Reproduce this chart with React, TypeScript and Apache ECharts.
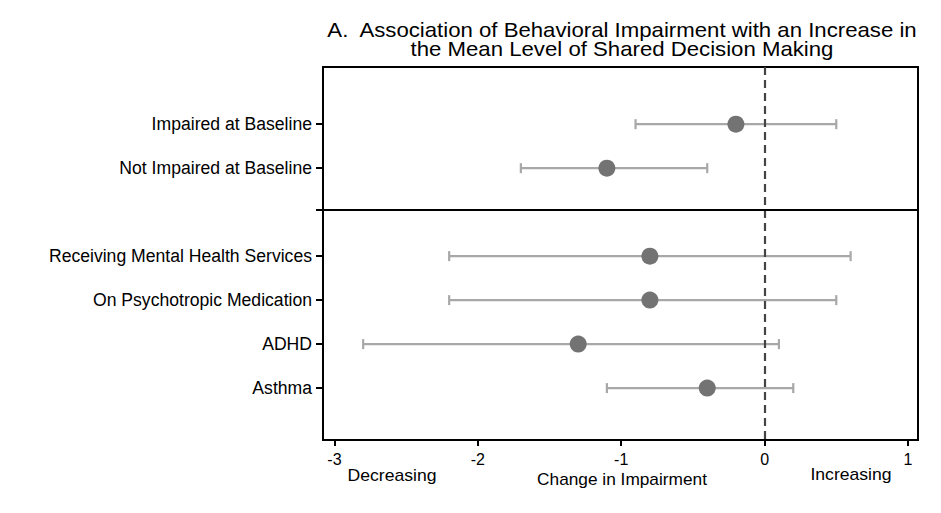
import React, { useEffect, useRef } from "react";
import * as echarts from "echarts";

const categories = [
  "Impaired at Baseline",
  "Not Impaired at Baseline",
  "Receiving Mental Health Services",
  "On Psychotropic Medication",
  "ADHD",
  "Asthma",
];
const panelOf = [0, 0, 1, 1, 1, 1];
const estimates = [-0.2, -1.1, -0.8, -0.8, -1.3, -0.4];
const lower = [-0.9, -1.7, -2.2, -2.2, -2.8, -1.1];
const upper = [0.5, -0.4, 0.6, 0.5, 0.1, 0.2];
const xTicks = [-3, -2, -1, 0, 1];

const titleLines = [
  "A.  Association of Behavioral Impairment with an Increase in",
  "the Mean Level of Shared Decision Making",
];
const xAxisName = "Change in Impairment";
const leftNote = "Decreasing";
const rightNote = "Increasing";

const FONT = "'Liberation Sans', Arial, Helvetica, sans-serif";

export default function App() {
  const ref = useRef<HTMLDivElement>(null);
  useEffect(() => {
    if (!ref.current) return;
    const chart = echarts.init(ref.current, null, { renderer: "svg" });
    const rowPos = categories.map((_, i) => i + 1.3 + panelOf[i]);
    const dividerPos = 3.25;

    const txt = (text: string, x: number, y: number, size: number, sx: number) => ({
      type: "text",
      x,
      y,
      scaleX: sx,
      style: {
        text,
        fontSize: size,
        fontFamily: FONT,
        fill: "#000",
        textAlign: "center",
        textVerticalAlign: "middle",
      },
    });

    const option: any = {
      animation: false,
      backgroundColor: "#ffffff",
      textStyle: { fontFamily: FONT },
      grid: {
        left: 323,
        right: 23,
        top: 67,
        bottom: 73,
        show: true,
        borderColor: "#000",
        borderWidth: 2,
        backgroundColor: "transparent",
      },
      xAxis: {
        type: "value",
        min: -3.08,
        max: 1.07,
        splitLine: { show: false },
        axisLine: { show: true, onZero: false, lineStyle: { color: "#000", width: 2 } },
        axisTick: {
          show: true,
          customValues: xTicks,
          length: 6,
          lineStyle: { color: "#000", width: 2 },
        },
        axisLabel: {
          customValues: xTicks,
          color: "#000",
          fontSize: 16,
          margin: 11,
          fontFamily: FONT,
        },
      },
      yAxis: {
        type: "value",
        inverse: true,
        min: 0,
        max: 8.48,
        splitLine: { show: false },
        axisLine: { show: true, onZero: false, lineStyle: { color: "#000", width: 2 } },
        axisTick: {
          show: true,
          customValues: [...rowPos, dividerPos],
          length: 7,
          lineStyle: { color: "#000", width: 2 },
        },
        axisLabel: {
          customValues: rowPos,
          color: "#000",
          fontSize: 17.6,
          margin: 11,
          fontFamily: FONT,
          formatter: (v: number) => {
            const idx = rowPos.findIndex((p) => Math.abs(p - v) < 1e-6);
            return idx >= 0 ? categories[idx] : "";
          },
        },
      },
      series: [
        {
          type: "custom",
          data: categories.map((_, i) => [lower[i], upper[i], rowPos[i]]),
          encode: { x: [0, 1], y: 2 },
          renderItem: (params: any, api: any) => {
            const lo = api.coord([api.value(0), api.value(2)]);
            const hi = api.coord([api.value(1), api.value(2)]);
            const style = { stroke: "#a8a8a8", lineWidth: 2.2 };
            const cap = 5;
            return {
              type: "group",
              children: [
                { type: "line", shape: { x1: lo[0], y1: lo[1], x2: hi[0], y2: hi[1] }, style },
                { type: "line", shape: { x1: lo[0], y1: lo[1] - cap, x2: lo[0], y2: lo[1] + cap }, style },
                { type: "line", shape: { x1: hi[0], y1: hi[1] - cap, x2: hi[0], y2: hi[1] + cap }, style },
              ],
            };
          },
          z: 2,
        },
        {
          type: "scatter",
          data: categories.map((_, i) => [estimates[i], rowPos[i]]),
          symbol: "circle",
          symbolSize: 17,
          itemStyle: { color: "#737373", opacity: 1 },
          z: 4,
          markLine: {
            silent: true,
            symbol: "none",
            label: { show: false },
            data: [
              {
                xAxis: 0,
                lineStyle: { color: "#444", width: 2.2, type: [8, 5], opacity: 1 },
              },
              {
                yAxis: dividerPos,
                lineStyle: { color: "#000", width: 2, type: "solid", opacity: 1 },
              },
            ],
          },
        },
      ],
      graphic: [
        txt(titleLines[0], 622, 30, 20, 1.11),
        txt(titleLines[1], 622, 49, 20, 1.11),
        txt(leftNote, 392, 476, 16, 1.1),
        txt(xAxisName, 622, 480, 16, 1.08),
        txt(rightNote, 851, 475, 16, 1.1),
      ],
    };
    chart.setOption(option);
    return () => chart.dispose();
  }, []);
  return (
    <div
      ref={ref}
      style={{ position: "fixed", left: 0, top: 0, width: 941, height: 513, background: "#fff" }}
    />
  );
}
